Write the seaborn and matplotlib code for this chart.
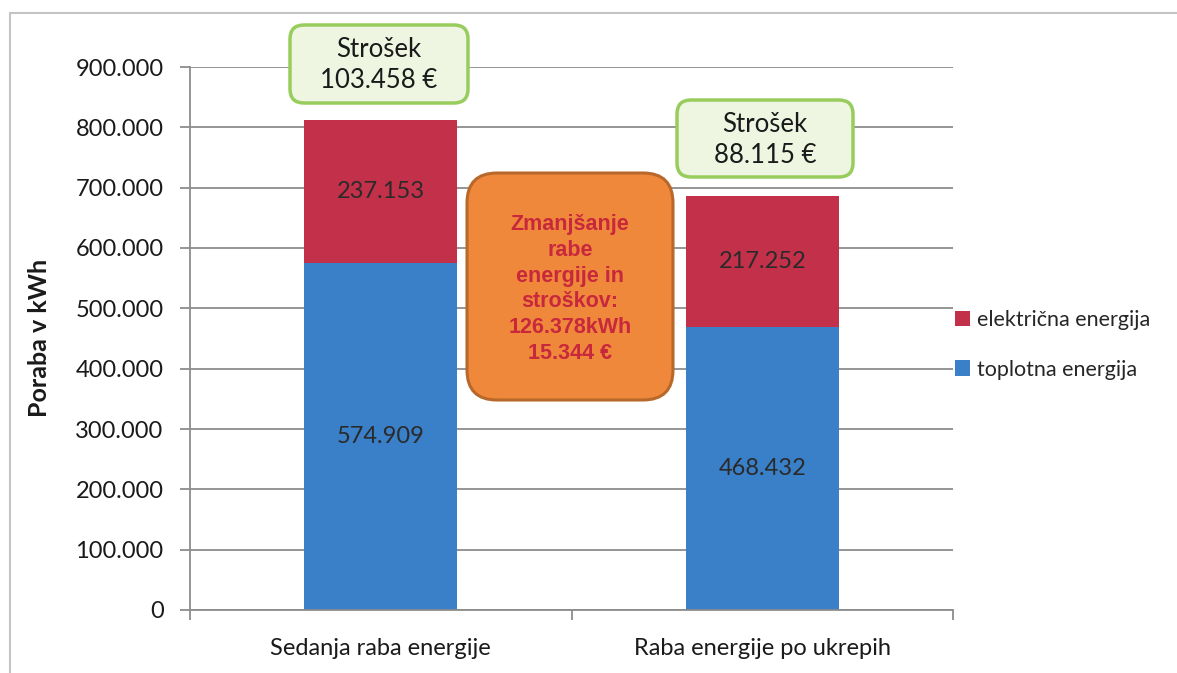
import numpy as np
import pandas as pd
import matplotlib
matplotlib.use("Agg")
import matplotlib.pyplot as plt
import seaborn as sns
from matplotlib.patches import FancyBboxPatch, Patch
from matplotlib.lines import Line2D
from matplotlib.ticker import FuncFormatter
import matplotlib.transforms as mtransforms

# ---------------- data ----------------
categories = ["Sedanja raba energije", "Raba energije po ukrepih"]
toplotna = [574909, 468432]      # toplotna energija (kWh)
elektricna = [237153, 217252]    # električna energija (kWh)
strosek = [103458, 88115]        # strošek (€)
prihranek_eur = 15344            # zmanjšanje stroškov (€)
series_names = ["električna energija", "toplotna energija"]
y_ticks = [0, 100000, 200000, 300000, 400000, 500000, 600000, 700000, 800000, 900000]


def fmt(v):
    return f"{int(round(v)):,}".replace(",", ".")


sns.set_theme(style="white")
plt.rcParams["font.family"] = ["Lato", "DejaVu Sans"]

W, H = 1177, 673
fig = plt.figure(figsize=(W / 100, H / 100), dpi=100)
fig.patch.set_facecolor("white")
ax = fig.add_axes([190 / W, (H - 610) / H, (953 - 190) / W, (610 - 67) / H])

df = pd.DataFrame({"kategorija": categories, "toplotna": toplotna, "elektricna": elektricna})
df["skupaj"] = df["toplotna"] + df["elektricna"]
prihranek_kwh = df["skupaj"].iloc[0] - df["skupaj"].iloc[1]

RED = "#c3304a"
BLUE = "#3a80c8"
GRID = "#8c8c8c"

sns.barplot(data=df, x="kategorija", y="skupaj", color=RED, saturation=1,
            width=0.4, linewidth=0, errorbar=None, ax=ax, zorder=2)
sns.barplot(data=df, x="kategorija", y="toplotna", color=BLUE, saturation=1,
            width=0.4, linewidth=0, errorbar=None, ax=ax, zorder=2)

ax.set_xlim(-0.5, 1.5)
ax.set_ylim(0, 900000)
ax.set_yticks(y_ticks)
ax.yaxis.set_major_formatter(FuncFormatter(lambda v, p: fmt(v)))
ax.yaxis.grid(True, color=GRID, lw=1.3)
ax.set_axisbelow(True)
ax.set_xlabel("")
ax.set_ylabel("")

ax.tick_params(axis="y", left=True, length=7, width=1.3, color=GRID, pad=12,
               labelsize=17, labelcolor="#1a1a1a")
ax.tick_params(axis="x", which="major", length=0, pad=20, labelsize=17, labelcolor="#1a1a1a")
ax.set_xticks([-0.5, 0.5, 1.5], minor=True)
ax.tick_params(axis="x", which="minor", bottom=True, length=7, width=1.3, color=GRID)

for s in ["top", "right"]:
    ax.spines[s].set_visible(False)
for s in ["left", "bottom"]:
    ax.spines[s].set_color(GRID)
    ax.spines[s].set_linewidth(1.3)

# data labels
for i in range(len(categories)):
    ax.text(i, toplotna[i] / 2, fmt(toplotna[i]), ha="center", va="center",
            fontsize=17, color="#2a2a2a", zorder=4)
    ax.text(i, toplotna[i] + elektricna[i] / 2, fmt(elektricna[i]), ha="center",
            va="center", fontsize=17, color="#2a2a2a", zorder=4)

# y label
fig.text(40 / W, (H - 338) / H, "Poraba v kWh", rotation=90, ha="center", va="center",
         fontsize=18, fontweight="bold", color="#1a1a1a")

# legend
handles = [Patch(facecolor=RED, edgecolor="none"), Patch(facecolor=BLUE, edgecolor="none")]
fig.legend(handles, series_names, loc="center left", bbox_to_anchor=(955 / W, (H - 345) / H),
           frameon=False, fontsize=15.5, handlelength=0.7, handleheight=0.7,
           handletextpad=0.3, labelspacing=1.35, borderpad=0, borderaxespad=0)

# outer frame of the chart area
fig.add_artist(Line2D([10 / W, 10 / W], [0, (H - 13) / H], color="#c4c4c4", lw=1.5,
                      transform=fig.transFigure))
fig.add_artist(Line2D([10 / W, 1], [(H - 13) / H, (H - 13) / H], color="#c4c4c4", lw=1.5,
                      transform=fig.transFigure))


def box(x0, y0, x1, y1, r, fc, ec, lw):
    p = FancyBboxPatch((x0, H - y1), x1 - x0, y1 - y0,
                       boxstyle=f"round,pad=0,rounding_size={r}",
                       transform=mtransforms.IdentityTransform(),
                       facecolor=fc, edgecolor=ec, linewidth=lw, zorder=5)
    fig.add_artist(p)


GREEN_FC = "#eef6e2"
GREEN_EC = "#98cc5c"
box(290, 25, 468, 103, 14, GREEN_FC, GREEN_EC, 2.5)
fig.text(379 / W, (H - 65) / H, f"Strošek\n{fmt(strosek[0])} €", ha="center", va="center",
         fontsize=18.5, linespacing=1.3, color="#1a1a1a", zorder=6)

box(677, 100, 853, 177, 14, GREEN_FC, GREEN_EC, 2.5)
fig.text(765 / W, (H - 140) / H, f"Strošek\n{fmt(strosek[1])} €", ha="center", va="center",
         fontsize=18.5, linespacing=1.3, color="#1a1a1a", zorder=6)

box(467, 173, 673, 400, 30, "#f0883c", "#b8682a", 2.2)
fig.text(570 / W, (H - 289) / H,
         f"Zmanjšanje\nrabe\nenergije in\nstroškov:\n{fmt(prihranek_kwh)}kWh\n{fmt(prihranek_eur)} €",
         ha="center", va="center", fontsize=15.5, fontweight="bold",
         family=["Liberation Sans", "DejaVu Sans"],
         linespacing=1.3, color="#c8283c", zorder=6)

fig.savefig("out.png", dpi=100)
